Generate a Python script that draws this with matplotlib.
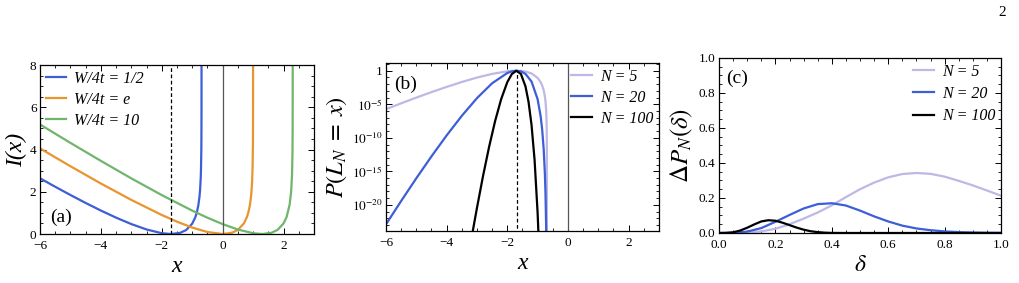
import matplotlib
matplotlib.use("Agg")
import matplotlib.pyplot as plt
import numpy as np
from matplotlib.ticker import MultipleLocator, FixedLocator, NullFormatter, FormatStrFormatter

plt.rcParams['font.family'] = ['Liberation Serif', 'DejaVu Serif']
plt.rcParams['mathtext.fontset'] = 'stix'

# ---- panel (a): rate functions I(x) ----
xa_half = [-6, -5.5, -5, -4.5, -4, -3.5, -3, -2.5, -2, -1.7, -1.4, -1.2, -1.0, -0.9,
           -0.85, -0.8, -0.76, -0.74, -0.72, -0.71, -0.70, -0.697, -0.695, -0.694, -0.6935, -0.6932]
Ia_half = [2.638, 2.237, 1.847, 1.470, 1.111, 0.775, 0.471, 0.215, 0.039, 0.0, 0.054, 0.186, 0.488, 0.782,
           1.009, 1.342, 1.770, 2.105, 2.639, 3.092, 3.969, 4.55, 5.27, 6.01, 6.82, 8.5]

xa_e = [-6, -5, -4, -3, -2, -1.5, -1, -0.5, 0, 0.3, 0.5, 0.7, 0.8, 0.85, 0.9, 0.94, 0.97,
        0.985, 0.995, 0.998, 0.9995, 0.9999]
Ia_e = [4.054, 3.208, 2.391, 1.614, 0.901, 0.584, 0.307, 0.095, 0.0, 0.057, 0.193, 0.504, 0.809, 1.047,
        1.403, 1.873, 2.537, 3.215, 4.303, 5.215, 6.601, 8.21]

xa_10 = [-6, -5, -4, -3, -2, -1, -0.5, 0, 0.5, 1.0, 1.3, 1.6, 1.8, 2.0, 2.1, 2.2, 2.25, 2.28,
         2.295, 2.30, 2.302, 2.3025]
Ia_10 = [5.186, 4.314, 3.462, 2.634, 1.843, 1.108, 0.772, 0.469, 0.213, 0.038, 0.0, 0.056, 0.191, 0.498,
         0.799, 1.380, 1.998, 2.812, 3.888, 4.955, 6.42, 8.2]

x_dash = -1.69

# ---- panel (b): log10 P(L_N = x) ----
xb = [-6, -5.5, -5, -4.5, -4, -3.5, -3, -2.5, -2, -1.85, -1.7, -1.55, -1.4, -1.2, -1.0, -0.9,
      -0.85, -0.8, -0.76, -0.74, -0.72, -0.71, -0.70, -0.695, -0.6932]
logP_5 = [-5.73, -4.86, -4.01, -3.19, -2.41, -1.68, -1.02, -0.47, -0.085, -0.024, 0.0, -0.025, -0.117,
          -0.404, -1.06, -1.70, -2.19, -2.91, -3.84, -4.57, -5.73, -6.71, -8.62, -11.44, -30]
logP_20 = [-22.91, -19.43, -16.04, -12.77, -9.65, -6.73, -4.09, -1.87, -0.34, -0.097, 0.0, -0.098, -0.47,
           -1.62, -4.24, -6.79, -8.76, -11.66, -15.37, -18.28, -22.92, -26.9, -34.5, -45.8, -60]
xb_100 = [-3.2, -3.1, -3.0, -2.8, -2.6, -2.4, -2.2, -2.0, -1.85, -1.7, -1.55, -1.4, -1.3, -1.2,
          -1.1, -1.0, -0.95]
logP_100 = [-25.5, -22.96, -20.46, -15.71, -11.36, -7.48, -4.21, -1.71, -0.49, 0.0, -0.49, -2.33,
            -4.61, -8.09, -13.29, -21.2, -26.7]

# ---- panel (c): Delta P_N(delta) ----
delta = [0, 0.05, 0.1, 0.15, 0.2, 0.25, 0.3, 0.35, 0.4, 0.45, 0.5, 0.55, 0.6, 0.65, 0.7,
         0.75, 0.8, 0.85, 0.9, 0.95, 1.0]
dP_5 = [0, 0.0005, 0.003, 0.009, 0.024, 0.05, 0.082, 0.117, 0.158, 0.205, 0.25, 0.288, 0.318,
        0.337, 0.343, 0.338, 0.322, 0.298, 0.272, 0.243, 0.213]
dP_20 = [0, 0.001, 0.008, 0.028, 0.064, 0.103, 0.14, 0.165, 0.17, 0.157, 0.128, 0.095, 0.066,
         0.042, 0.026, 0.016, 0.009, 0.005, 0.003, 0.0015, 0.001]
delta_100 = [0, 0.025, 0.05, 0.075, 0.1, 0.125, 0.15, 0.175, 0.2, 0.225, 0.25, 0.275, 0.3,
             0.325, 0.35, 0.375, 0.4, 0.45, 0.5, 1.0]
dP_100 = [0, 0.0005, 0.004, 0.014, 0.03, 0.049, 0.066, 0.073, 0.07, 0.059, 0.045, 0.031, 0.019,
          0.01, 0.005, 0.002, 0.0005, 0, 0, 0]

c_blue = '#3d5ed6'
c_orange = '#e8952e'
c_green = '#70b56c'
c_lav = '#bdb8e6'

fig = plt.figure(figsize=(10.2, 2.83), dpi=100)
axa = fig.add_axes([0.0392, 0.1731, 0.2686, 0.5972])
axb = fig.add_axes([0.3784, 0.1837, 0.2676, 0.5936])
axc = fig.add_axes([0.7049, 0.1767, 0.2765, 0.6184])


def frame(ax):
    for s in ax.spines.values():
        s.set_linewidth(0.9)
    ax.tick_params(which='both', direction='in', top=True, right=True, labelsize=9.5)
    ax.tick_params(axis='x', pad=4)
    ax.tick_params(axis='y', pad=2.5)
    ax.tick_params(which='major', length=4, width=0.7)
    ax.tick_params(which='minor', length=2, width=0.6)


lw = 1.6
leg_font = {'family': 'Liberation Serif', 'style': 'italic', 'size': 11.5}

# (a)
axa.plot(xa_half, Ia_half, color=c_blue, lw=lw, label='W/4t = 1/2')
axa.plot(xa_e, Ia_e, color=c_orange, lw=lw, label='W/4t = e')
axa.plot(xa_10, Ia_10, color=c_green, lw=lw, label='W/4t = 10')
axa.axvline(0, color='#555555', lw=0.9)
axa.axvline(x_dash, color='black', lw=0.9, ls=(0, (3, 2)))
axa.set_xlim(-6, 3)
axa.set_ylim(0, 8)
axa.xaxis.set_major_locator(MultipleLocator(2))
axa.xaxis.set_minor_locator(MultipleLocator(0.5))
axa.yaxis.set_major_locator(MultipleLocator(2))
axa.yaxis.set_minor_locator(MultipleLocator(0.5))
frame(axa)
axa.set_xlabel('x', fontsize=17, style='italic', labelpad=3)
axa.set_ylabel('I(x)', fontsize=17, style='italic', labelpad=2)
axa.text(0.036, 0.05, '(a)', fontsize=14, transform=axa.transAxes, va='bottom')
axa.legend(loc='upper left', prop=leg_font, frameon=False, handlelength=1.3,
           handletextpad=0.5, labelspacing=0.32, borderaxespad=0.1, borderpad=0.25)

# (b)
axb.plot(xb, 10.0 ** np.array(logP_5), color=c_lav, lw=lw, label='N = 5')
axb.plot(xb, 10.0 ** np.array(logP_20), color=c_blue, lw=lw, label='N = 20')
axb.plot(xb_100, 10.0 ** np.array(logP_100), color='black', lw=lw, label='N = 100')
axb.axvline(0, color='#555555', lw=0.9)
axb.plot([x_dash, x_dash], [1e-30, 1.0], color='black', lw=0.9, ls=(0, (3, 2)))
axb.set_yscale('log')
axb.set_xlim(-6, 3)
axb.set_ylim(10 ** -23.9, 10 ** 1.15)
axb.xaxis.set_major_locator(MultipleLocator(2))
axb.xaxis.set_minor_locator(MultipleLocator(0.5))
axb.yaxis.set_major_locator(FixedLocator([1e-20, 1e-15, 1e-10, 1e-5, 1]))
axb.yaxis.set_minor_locator(FixedLocator([10.0 ** k for k in range(-23, 2)]))
axb.yaxis.set_minor_formatter(NullFormatter())
axb.set_yticklabels([r'$10^{-20}$', r'$10^{-15}$', r'$10^{-10}$', r'$10^{-5}$', '1'])
frame(axb)
axb.set_xlabel('x', fontsize=17, style='italic', labelpad=3)
axb.set_ylabel(r'$P(L_N\;=\;x)$', fontsize=17.5, labelpad=2)
axb.text(0.03, 0.82, '(b)', fontsize=14, transform=axb.transAxes, va='bottom')
axb.legend(loc='upper right', prop=leg_font, frameon=False, handlelength=1.3,
           handletextpad=0.5, labelspacing=0.32, borderaxespad=0.1, borderpad=0.25)

# (c)
axc.plot(delta, dP_5, color=c_lav, lw=lw, label='N = 5')
axc.plot(delta, dP_20, color=c_blue, lw=lw, label='N = 20')
axc.plot(delta_100, dP_100, color='black', lw=lw, label='N = 100')
axc.set_xlim(0, 1)
axc.set_ylim(0, 1)
axc.xaxis.set_major_locator(MultipleLocator(0.2))
axc.xaxis.set_minor_locator(MultipleLocator(0.05))
axc.yaxis.set_major_locator(MultipleLocator(0.2))
axc.yaxis.set_minor_locator(MultipleLocator(0.05))
axc.xaxis.set_major_formatter(FormatStrFormatter('%.1f'))
axc.yaxis.set_major_formatter(FormatStrFormatter('%.1f'))
frame(axc)
axc.set_xlabel(r'$\delta$', fontsize=17, labelpad=3)
axc.set_ylabel(r'$\mathit{\Delta} P_N(\delta)$', fontsize=18, labelpad=3)
axc.text(0.026, 0.835, '(c)', fontsize=14, transform=axc.transAxes, va='bottom')
axc.legend(loc='upper right', prop=leg_font, frameon=False, handlelength=1.3,
           handletextpad=0.5, labelspacing=0.4, borderaxespad=0.1, borderpad=0.25)

fig.text(0.983, 0.955, '2', fontsize=11, ha='center', va='center')

fig.savefig('out.png', dpi=100)
